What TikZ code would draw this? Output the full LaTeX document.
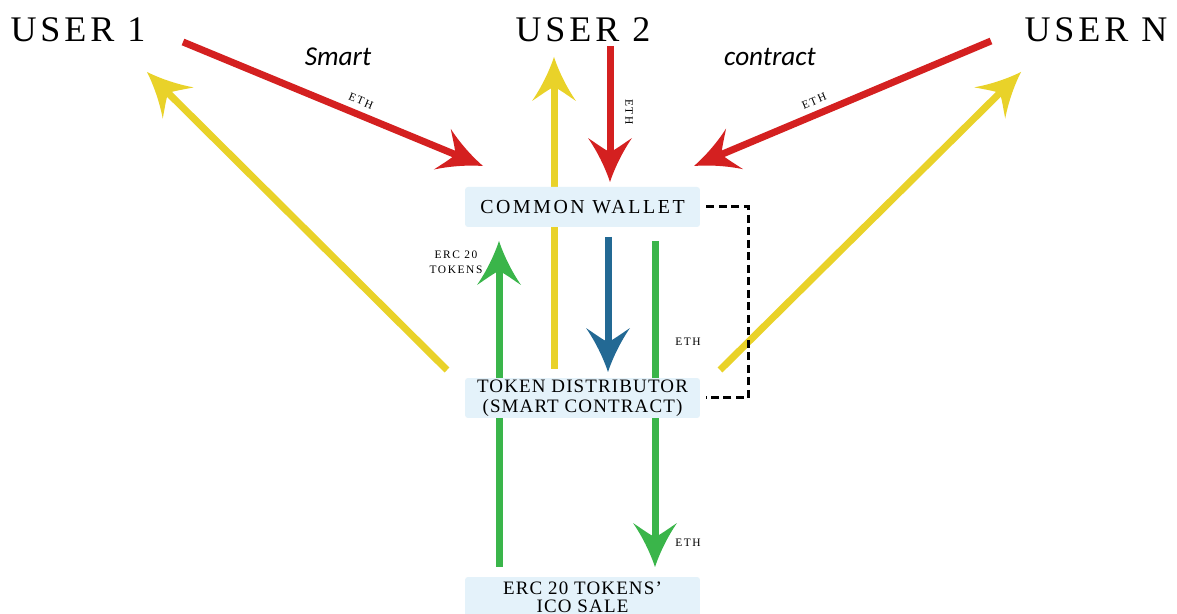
\documentclass[tikz,border=0pt]{standalone}
\usepackage{fontspec}
\setmainfont{Liberation Serif}
\newfontfamily\calibfont{Carlito}
\usetikzlibrary{arrows.meta}
\definecolor{rd}{HTML}{D42020}
\definecolor{yl}{HTML}{E9D229}
\definecolor{gr}{HTML}{3AB54A}
\definecolor{bl}{HTML}{236994}
\definecolor{boxbg}{HTML}{E4F2FA}
\pgfdeclarearrow{
  name = Swept,
  setup code = {
    \pgfarrowssettipend{0pt}
    \pgfarrowssetlineend{-0.5cm}
    \pgfarrowssetbackend{-0.88cm}
    \pgfarrowssetvisualbackend{-0.6cm}
    \pgfarrowshullpoint{0pt}{0pt}
    \pgfarrowshullpoint{-0.88cm}{0.44cm}
    \pgfarrowshullpoint{-0.88cm}{-0.44cm}
  },
  drawing code = {
    \pgfpathmoveto{\pgfpoint{0cm}{0cm}}
    \pgfpathcurveto{\pgfpoint{-0.3cm}{0.1cm}}{\pgfpoint{-0.62cm}{0.26cm}}{\pgfpoint{-0.88cm}{0.44cm}}
    \pgfpathcurveto{\pgfpoint{-0.76cm}{0.26cm}}{\pgfpoint{-0.64cm}{0.1cm}}{\pgfpoint{-0.6cm}{0cm}}
    \pgfpathcurveto{\pgfpoint{-0.64cm}{-0.1cm}}{\pgfpoint{-0.76cm}{-0.26cm}}{\pgfpoint{-0.88cm}{-0.44cm}}
    \pgfpathcurveto{\pgfpoint{-0.62cm}{-0.26cm}}{\pgfpoint{-0.3cm}{-0.1cm}}{\pgfpoint{0cm}{0cm}}
    \pgfpathclose
    \pgfusepathqfill
  }
}
\tikzset{
  usr/.style={inner sep=0pt, font=\fontsize{20.5}{24}\selectfont\addfontfeatures{LetterSpace=11}},
  ital/.style={inner sep=0pt, font=\calibfont\itshape\fontsize{15.5}{18}\selectfont},
  boxnode/.style={fill=boxbg, rounded corners=0.06cm, minimum width=4.7cm, minimum height=0.8cm, inner sep=0pt, align=center,
    font=\fontsize{11.3}{11.4}\selectfont\addfontfeatures{LetterSpace=13}},
  narrow/.style={font=\fontsize{10.8}{11.2}\selectfont\addfontfeatures{LetterSpace=6}},
  lbl/.style={inner sep=0pt, align=center, font=\fontsize{6.5}{8.5}\selectfont\addfontfeatures{LetterSpace=14}},
  arr/.style={line width=0.14cm, -Swept},
  dash line/.style={line width=0.06cm, dash pattern=on 0.16cm off 0.09cm}
}
\begin{document}
\begin{tikzpicture}[x=0.02cm,y=-0.02cm]
\clip (0,0) rectangle (1177,614);
\fill[white] (0,0) rectangle (1177,614);

% users and captions
\node[usr] (u1) at (78,30) {USER 1};
\node[usr] (u2) at (583,30) {USER 2};
\node[usr] (un) at (1096,30) {USER N};
\node[ital] (sm) at (338,57) {Smart};
\node[ital] (ct) at (770,57) {contract};

% connector end points
\coordinate (r1s) at (183,42);  \coordinate (r1e) at (483,166);
\coordinate (r2s) at (610,46);  \coordinate (r2e) at (610,182);
\coordinate (r3s) at (991,41);  \coordinate (r3e) at (694,166);
\coordinate (y1s) at (447,370); \coordinate (y1e) at (147,72);
\coordinate (y2s) at (554,369); \coordinate (y2e) at (554,57);
\coordinate (y3s) at (720,370); \coordinate (y3e) at (1021,72);
\coordinate (g1s) at (499,567); \coordinate (g1e) at (499,241);
\coordinate (g2s) at (655,241); \coordinate (g2e) at (655,567);
\coordinate (b1s) at (608,237); \coordinate (b1e) at (608,372);

% arrows
\draw[arr, rd] (r1s) -- (r1e);
\draw[arr, rd] (r2s) -- (r2e);
\draw[arr, rd] (r3s) -- (r3e);
\draw[arr, yl] (y1s) -- (y1e);
\draw[arr, yl] (y2s) -- (y2e);
\draw[arr, yl] (y3s) -- (y3e);
\draw[arr, gr] (g1s) -- (g1e);
\draw[arr, gr] (g2s) -- (g2e);
\draw[arr, bl] (b1s) -- (b1e);

% boxes
\node[boxnode] (cw) at (582.5,207) {COMMON WALLET};
\node[boxnode, narrow] (td) at (582.5,398) {TOKEN DISTRIBUTOR\\(SMART CONTRACT)};
\node[boxnode, narrow, font=\fontsize{10.8}{10}\selectfont\addfontfeatures{LetterSpace=6}] (ico) at (582.5,597) {ERC 20 TOKENS’\\ICO SALE};

% dashed link
\draw[dash line] ([xshift=0.12cm]cw.east) -- ++(42,0) |- ([xshift=0.12cm]td.east);

% labels
\node[lbl, rotate=-22.5] (e1) at (361,101) {ETH};
\node[lbl, rotate=-90] (e2) at (629,112) {ETH};
\node[lbl, rotate=22.9] (e3) at (814,101) {ETH};
\node[lbl] (e4) at (688,342) {ETH};
\node[lbl] (e5) at (688,543) {ETH};
\node[lbl] (erc) at (456,262) {ERC 20\\TOKENS};
\end{tikzpicture}
\end{document}
